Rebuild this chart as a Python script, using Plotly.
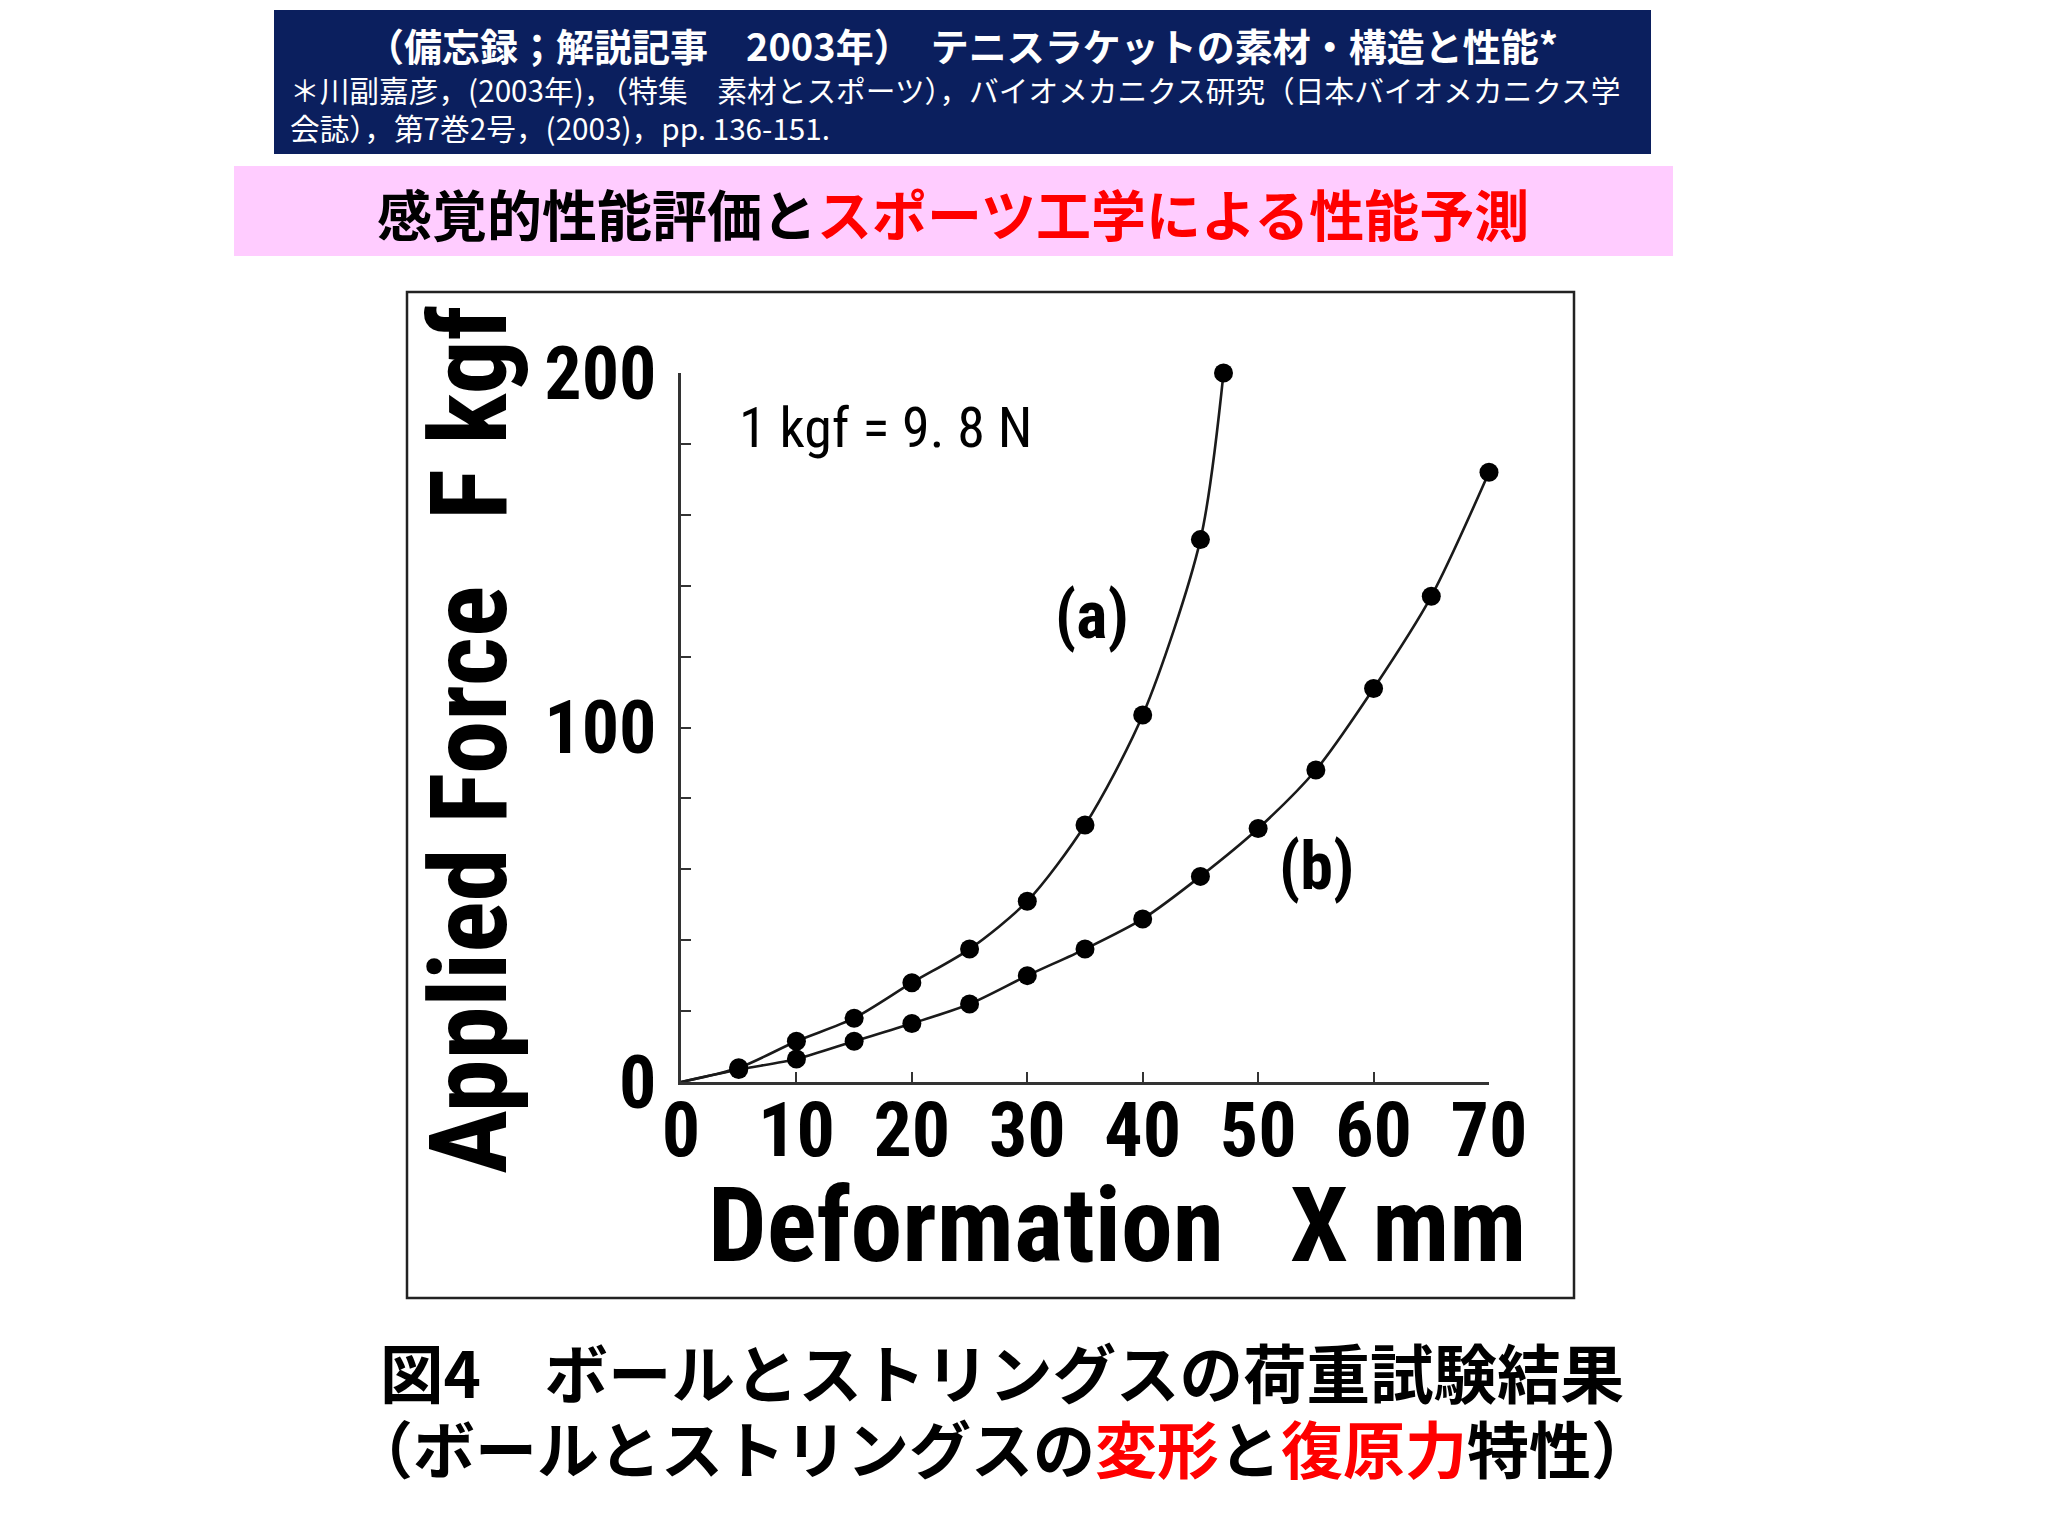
import plotly.graph_objects as go

# --- data (deformation mm vs applied force kgf) ---
deform_a = [5, 10, 15, 20, 25, 30, 35, 40, 45, 47]
force_a = [4, 11.5, 18, 28, 37.5, 51, 72.5, 103.5, 153, 200]

deform_b = [5, 10, 15, 20, 25, 30, 35, 40, 45, 50, 55, 60, 65, 70]
force_b = [3.5, 6.5, 11.5, 16.5, 22, 30, 37.5, 46, 58, 71.5, 88, 111, 137, 172]

# both curves start at the origin
origin_x = [0]
origin_y = [0]

x_tick_vals = [0, 10, 20, 30, 40, 50, 60, 70]
x_tick_text = ["0", "10", "20", "30", "40", "50", "60", "70"]
y_tick_vals = [0, 20, 40, 60, 80, 100, 120, 140, 160, 180, 200]
y_tick_text = ["0", "", "", "", "", "100", "", "", "", "", "200"]

# --- page geometry (pixels of the 2048x1536 page; body margin is 8px) ---
OFF = 8
W, H = 2048 - 2 * OFF, 1536 - 2 * OFF
ML, MR, MT, MB = 673, 551, 365, 446
PW = W - ML - MR
PH = H - MT - MB

COND = "Roboto Condensed, Open Sans Condensed, sans-serif"
JP = "Noto Sans CJK JP, Noto Sans CJK SC, sans-serif"
NAVY = "#0b1f5e"
PINK = "#ffccff"
RED = "#ff0000"
INK = "#1a1a1a"


def px2x(p):
    return (p - OFF - ML) / PW


def px2y(p):
    return 1 - (p - OFF - MT) / PH


fig = go.Figure()

for xs, ys in [(deform_a, force_a), (deform_b, force_b)]:
    fig.add_trace(go.Scatter(
        x=origin_x + xs, y=origin_y + ys,
        mode="lines", line=dict(color=INK, width=2.6, shape="spline", smoothing=0.8),
        hoverinfo="skip", cliponaxis=False, showlegend=False,
    ))
    fig.add_trace(go.Scatter(
        x=xs, y=ys, mode="markers",
        marker=dict(color="black", size=19),
        cliponaxis=False, showlegend=False,
    ))

shapes = [
    # navy header band
    dict(type="rect", xref="paper", yref="paper",
         x0=px2x(274), x1=px2x(1651), y0=px2y(154), y1=px2y(10),
         fillcolor=NAVY, line=dict(width=0), layer="below"),
    # pink subtitle band
    dict(type="rect", xref="paper", yref="paper",
         x0=px2x(234), x1=px2x(1673), y0=px2y(256), y1=px2y(166),
         fillcolor=PINK, line=dict(width=0), layer="below"),
    # frame round the scanned graph
    dict(type="rect", xref="paper", yref="paper",
         x0=px2x(407), x1=px2x(1574), y0=px2y(1298), y1=px2y(292),
         line=dict(color="#222", width=2.5), layer="below"),
]

ann = []


def label(text, x, y, size, color="black", family=JP, xanchor="center", angle=0, weight="normal"):
    ann.append(dict(text=text, xref="paper", yref="paper", x=px2x(x), y=px2y(y),
                    xanchor=xanchor, yanchor="middle", showarrow=False, textangle=angle,
                    font=dict(family=family, size=size, color=color, weight=weight)))


label("<b>（備忘録；解説記事　2003年）　テニスラケットの素材・構造と性能*</b>", 962, 44, 38, "white")
label("＊川副嘉彦，(2003年)，（特集　素材とスポーツ），バイオメカニクス研究（日本バイオメカニクス学",
      288, 90, 29.7, "white", xanchor="left")
label("会誌），第7巻2号，(2003)，pp. 136-151.", 288, 128, 29.7, "white", xanchor="left")
label("<b>感覚的性能評価と<span style='color:%s'>スポーツ工学による性能予測</span></b>" % RED,
      953, 212, 55)

label("Applied Force", 469, 880, 107, family=COND, angle=-90, weight="bold")
label("F kgf", 469, 413, 107, family=COND, angle=-90, weight="bold")
label("Deformation", 966, 1225, 104, family=COND, weight="bold")
label("X mm", 1408, 1225, 104, family=COND, weight="bold")
label("1 kgf = 9. 8 N", 886, 428, 56, family=COND)
label("(a)", 1092, 615, 66, family=COND, weight="bold")
label("(b)", 1316, 866, 66, family=COND, weight="bold")

label("<b>図4　ボールとストリングスの荷重試験結果</b>", 1002, 1370, 63.5)
label("<b>（ボールとストリングスの<span style='color:%s'>変形</span>と"
      "<span style='color:%s'>復原力</span>特性）</b>" % (RED, RED), 1002, 1447, 62)

fig.update_layout(
    width=W, height=H, autosize=False,
    margin=dict(l=ML, r=MR, t=MT, b=MB, pad=0),
    paper_bgcolor="white", plot_bgcolor="white",
    shapes=shapes, annotations=ann,
    xaxis=dict(range=[0, 70], showgrid=False, zeroline=False,
               showline=True, linecolor="#333", linewidth=2.5,
               ticks="inside", ticklen=10, tickwidth=2, tickcolor="#333",
               tickvals=x_tick_vals, ticktext=x_tick_text, ticklabelstandoff=-20,
               tickfont=dict(family=COND, size=76, color="black", weight="bold")),
    yaxis=dict(range=[0, 200], showgrid=False, zeroline=False,
               showline=True, linecolor="#333", linewidth=2.5,
               ticks="inside", ticklen=10, tickwidth=2, tickcolor="#333",
               tickvals=y_tick_vals, ticktext=y_tick_text, ticklabelstandoff=7,
               tickfont=dict(family=COND, size=74, color="black", weight="bold")),
)

fig.write_html("out.html")
